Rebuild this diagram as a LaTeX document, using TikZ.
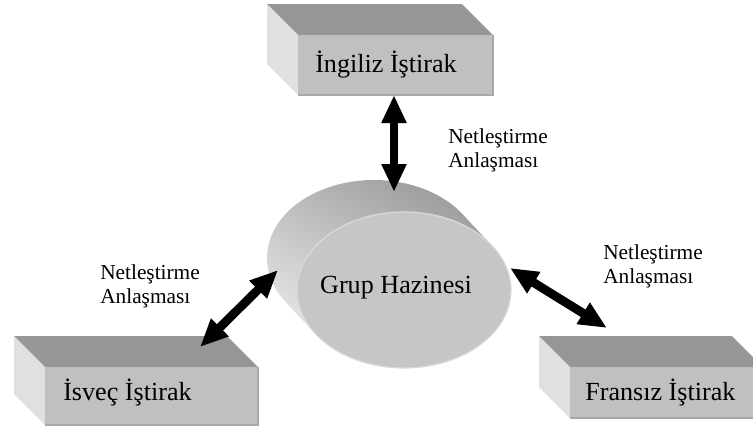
\documentclass[tikz,border=0pt]{standalone}
\usepackage{fontspec}
\setmainfont{Liberation Serif}
\usetikzlibrary{arrows.meta,shapes.geometric}
\definecolor{topface}{RGB}{150,150,150}
\definecolor{frontface}{RGB}{192,192,192}
\definecolor{sideface}{RGB}{224,224,224}
\definecolor{edgeline}{RGB}{168,168,168}
\definecolor{cylfront}{RGB}{198,198,198}
\definecolor{cylrim}{RGB}{218,218,218}
\definecolor{cyldark}{RGB}{150,150,150}
\definecolor{cyllight}{RGB}{238,238,238}
\newcommand\cubeshell[5]{% x1,y1,x2,y2,depth : top and left faces
  \fill[topface] (#1,#2) -- (#1-#5,#2-#5) -- (#3-#5,#2-#5) -- (#3,#2) -- cycle;
  \fill[sideface] (#1,#2) -- (#1-#5,#2-#5) -- (#1-#5,#4-#5) -- (#1,#4) -- cycle;
}
\begin{document}
\begin{tikzpicture}[x=0.75pt,y=-0.75pt,
  frontbox/.style={rectangle, fill=frontface, draw=none, inner sep=0pt, outer sep=0pt, anchor=north west},
  frontedge/.style={draw=edgeline, line width=0.9pt},
  biglabel/.style={font=\fontsize{19.6}{24}\selectfont, inner sep=0pt},
  smalllabel/.style={font=\fontsize{16}{18}\selectfont, align=left, anchor=base west, inner sep=0pt},
  fatarrow/.style={line width=6.6pt, {Triangle[length=21pt,width=17.5pt]}-{Triangle[length=21pt,width=17.5pt]}}
]
\useasboundingbox (0,0) rectangle (753,430);
\clip (0,0) rectangle (753,430);

% ---- cubes ----
\cubeshell{298}{35}{493}{95}{31}
\node[frontbox, minimum width=146.25pt, minimum height=45pt] (ingbox) at (298,35) {};
\draw[frontedge] (ingbox.north east) -- (ingbox.south east) -- (ingbox.south west);
\node[biglabel, anchor=base west] (ingtext) at (315,72) {İngiliz İştirak};

\cubeshell{45}{367}{258}{425}{31}
\node[frontbox, minimum width=159.75pt, minimum height=43.5pt] (isvbox) at (45,367) {};
\draw[frontedge] (isvbox.north east) -- (isvbox.south east) -- (isvbox.south west);
\node[biglabel, anchor=base west] (isvtext) at (63,400) {İsveç İştirak};

\cubeshell{570}{367}{763}{418}{31}
\node[frontbox, minimum width=144.75pt, minimum height=38.25pt] (frabox) at (570,367) {};
\draw[frontedge] (frabox.north east) -- (frabox.south east) -- (frabox.south west);
\node[biglabel, anchor=base west] (fratext) at (585,400) {Fransız İştirak};

% ---- cylinder ----
\path[shading=axis, top color=cyldark, bottom color=cyllight, shading angle=-30]
  (374,258) ++(-34.3:107 and 78)
  arc[start angle=-34.3, end angle=-214.3, x radius=107, y radius=78]
  -- ++(30,32)
  arc[start angle=145.7, end angle=-34.3, x radius=107, y radius=78]
  -- cycle;
\node[ellipse, fill=cylfront, draw=cylrim, line width=0.9pt, inner sep=0pt,
      minimum width=160.5pt, minimum height=117pt] (hz) at (404,290) {};
\node[biglabel, anchor=base] (hztext) at (396,293) {Grup Hazinesi};

% ---- arrow ends ----
\coordinate (aT1) at (394,95);
\coordinate (aT2) at (394,192);
\coordinate (aL1) at (278,270);
\coordinate (aL2) at (200,347);
\coordinate (aR1) at (510,268);
\coordinate (aR2) at (607,328);

\draw[fatarrow] (aT1) -- (aT2);
\draw[fatarrow] (aL1) -- (aL2);
\draw[fatarrow] (aR1) -- (aR2);

% ---- labels (base = baseline of last line) ----
\node[smalllabel] (lblT) at (448,167) {Netleştirme\\Anlaşması};
\node[smalllabel] (lblL) at (100,303) {Netleştirme\\Anlaşması};
\node[smalllabel] (lblR) at (603,283) {Netleştirme\\Anlaşması};
\end{tikzpicture}
\end{document}
